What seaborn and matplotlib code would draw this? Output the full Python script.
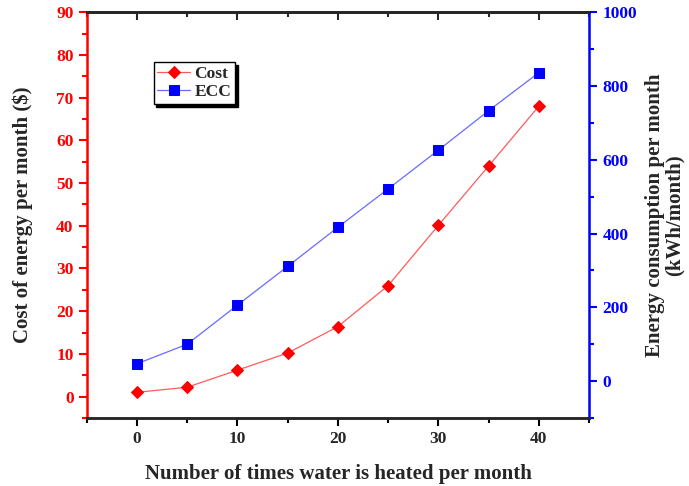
import matplotlib
matplotlib.use("Agg")
import matplotlib.pyplot as plt
import pandas as pd
import seaborn as sns
from matplotlib.ticker import MultipleLocator

# Values
times_heated = [0, 5, 10, 15, 20, 25, 30, 35, 40]
cost = [1.0, 2.2, 6.2, 10.2, 16.4, 26.0, 40.1, 54.0, 68.0]
ecc = [47, 100, 206, 311, 417, 521, 626, 733, 836]

df = pd.DataFrame({"times": times_heated, "Cost": cost, "ECC": ecc})

sns.set_style("ticks")
plt.rcParams['font.family'] = ['Liberation Serif', 'DejaVu Serif']
plt.rcParams['font.weight'] = 'bold'

fig = plt.figure(figsize=(6.89, 4.86), dpi=100)
ax = fig.add_axes([0.126, 0.140, 0.729, 0.835])
ax2 = ax.twinx()

sns.lineplot(data=df, x="times", y="Cost", ax=ax, color="red", marker="D",
             markersize=6.5, lw=0.9, label="Cost", legend=False)
sns.lineplot(data=df, x="times", y="ECC", ax=ax2, color="blue", marker="s",
             markersize=6.5, lw=0.9, label="ECC", legend=False)
# lines a bit lighter than the markers
ax.lines[0].set_color("#ff5a5a")
ax.lines[0].set_markerfacecolor("red")
ax.lines[0].set_markeredgecolor("red")
ax2.lines[0].set_color("#6a6aff")
ax2.lines[0].set_markerfacecolor("blue")
ax2.lines[0].set_markeredgecolor("blue")

ax.set_xlim(-5, 45)
ax.set_ylim(-5, 90)
ax2.set_ylim(-100, 1000)

ax.xaxis.set_major_locator(MultipleLocator(10))
ax.xaxis.set_minor_locator(MultipleLocator(5))
ax.yaxis.set_major_locator(MultipleLocator(10))
ax.yaxis.set_minor_locator(MultipleLocator(5))
ax2.yaxis.set_major_locator(MultipleLocator(200))
ax2.yaxis.set_minor_locator(MultipleLocator(100))

# spines
for a in (ax, ax2):
    for s in a.spines.values():
        s.set_linewidth(1.8)
ax.spines["left"].set_color("red")
ax2.spines["left"].set_visible(False)
ax2.spines["right"].set_color("blue")
ax.spines["right"].set_visible(False)

ax.tick_params(axis="x", which="both", direction="out", top=False, bottom=True,
               labelsize=12.5, width=1.5, color="black")
ax.tick_params(axis="x", which="major", length=6)
ax.tick_params(axis="x", which="minor", length=3.5)
ax.tick_params(axis="y", which="both", colors="red", labelsize=12.5, width=1.5)
ax.tick_params(axis="y", which="major", length=6)
ax.tick_params(axis="y", which="minor", length=3.5)
ax2.tick_params(axis="y", which="both", colors="blue", labelsize=12.5, width=1.5)
ax2.tick_params(axis="y", which="major", length=6)
ax2.tick_params(axis="y", which="minor", length=3.5)

# top ticks point inward
sec = ax.secondary_xaxis("top")
sec.xaxis.set_major_locator(MultipleLocator(10))
sec.xaxis.set_minor_locator(MultipleLocator(5))
sec.tick_params(which="both", direction="in", labeltop=False, width=1.5)
sec.tick_params(which="major", length=6)
sec.tick_params(which="minor", length=3.5)
sec.spines["top"].set_linewidth(1.8)

for lbl in ax.get_xticklabels() + ax.get_yticklabels() + ax2.get_yticklabels():
    lbl.set_fontweight("bold")

ax.set_xlabel("Number of times water is heated per month", fontsize=15,
              fontweight="bold", labelpad=12)
ax.set_ylabel("Cost of energy per month ($)", fontsize=15, fontweight="bold", labelpad=17)
ax2.set_ylabel("Energy consumption per month\n(kWh/month)", fontsize=15,
               fontweight="bold", labelpad=6, linespacing=0.95)

handles = ax.lines[:1] + ax2.lines[:1]
leg = ax.legend(handles, ["Cost", "ECC"], loc="upper left",
                bbox_to_anchor=(0.133, 0.877), borderaxespad=0, frameon=True,
                fancybox=False, shadow={"color": "black", "alpha": 1},
                edgecolor="black", prop={"weight": "bold", "size": 12.5},
                handlelength=1.9, borderpad=0.2, labelspacing=0.15,
                handletextpad=0.25)
leg.get_frame().set_linewidth(1.0)
leg.get_frame().set_alpha(1)

fig.savefig("out.png", dpi=100)
